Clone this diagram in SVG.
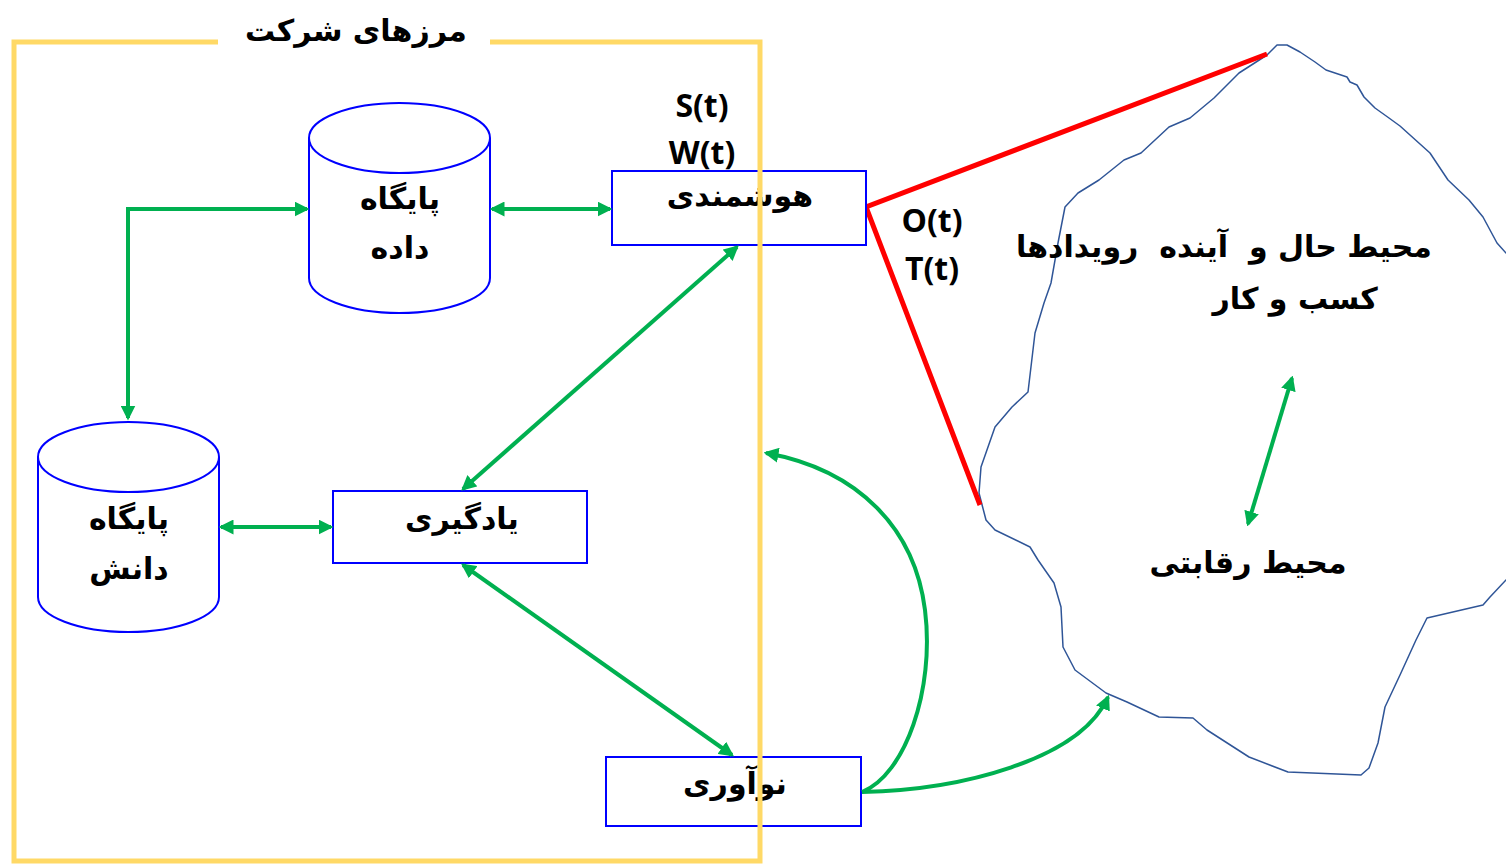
<svg xmlns="http://www.w3.org/2000/svg" width="1506" height="864" viewBox="0 0 1506 864">
<style>
.node{fill:#fff;stroke:#0000FF;stroke-width:2}
.fa{font-family:"DejaVu Sans","Noto Sans",sans-serif;font-weight:bold;font-size:30px;fill:#000;text-anchor:middle;direction:rtl;white-space:pre}
.lat{font-family:"Open Sans","Liberation Sans",sans-serif;font-weight:bold;font-size:32px;fill:#000;text-anchor:middle}
.con{fill:none;stroke:#00B050;stroke-width:4}
.red{fill:none;stroke:#FF0000;stroke-width:5}
</style>
<defs>
<marker id="ah" viewBox="0 0 12 12" refX="10" refY="6" markerWidth="15" markerHeight="15" markerUnits="userSpaceOnUse" orient="auto-start-reverse">
<path d="M0,0 L12,6 L0,12 z" fill="#00B050"/>
</marker>
</defs>
<rect width="1506" height="864" fill="#fff"/>

<g id="environment">
<path d="M1267,55 L1277,45 L1287,45 L1300,52 L1315,62 L1326,70 L1347,77 L1350,82 L1357,85 L1364,97 L1375,108 L1389,118 L1400,126 L1430,153 L1448,180 L1469,200 L1483,217 L1497,243 L1506,253 L1512,253 L1512,578 L1506,580 L1490,597 L1483,605 L1427,618 L1416,640 L1400,675 L1385,707 L1378,743 L1369,768 L1361,775 L1288,772 L1249,757 L1207,730 L1193,718 L1159,717 L1127,702 L1106,693 L1075,670 L1063,647 L1061,607 L1054,583 L1038,560 L1030,547 L995,530 L986,520 L979,493 L981,467 L995,427 L1012,407 L1028,392 L1035,333 L1044,303 L1051,283 L1058,243 L1065,207 L1078,193 L1099,180 L1124,160 L1141,153 L1155,140 L1169,127 L1190,118 L1214,98 L1239,73 Z" fill="none" stroke="#2F5597" stroke-width="1.5" stroke-linejoin="round"/>
<text class="fa" x="1224" y="257" xml:space="preserve">محیط حال و  آینده  رویدادها</text>
<text class="fa" x="1295" y="309">کسب و کار</text>
<text class="fa" x="1248" y="573">محیط رقابتی</text>
</g>

<g id="red-lines">
<polyline class="red" points="1267,54 866,207 980,505"/>
</g>

<g id="data-base">
<path class="node" d="M309,138 L309,278 A90.5,35 0 0 0 490,278 L490,138"/>
<ellipse class="node" cx="399.5" cy="138" rx="90.5" ry="35"/>
<text class="fa" x="400" y="209">پایگاه</text>
<text class="fa" x="400" y="258">داده</text>
</g>

<g id="knowledge-base">
<path class="node" d="M38,457 L38,597 A90.5,35 0 0 0 219,597 L219,457"/>
<ellipse class="node" cx="128.5" cy="457" rx="90.5" ry="35"/>
<text class="fa" x="129" y="529">پایگاه</text>
<text class="fa" x="129" y="579">دانش</text>
</g>

<g id="intelligence">
<rect class="node" x="612" y="171" width="254" height="74"/>
<text class="fa" x="740" y="206">هوشمندی</text>
</g>

<g id="learning">
<rect class="node" x="333" y="491" width="254" height="72"/>
<text class="fa" x="462" y="529">یادگیری</text>
</g>

<g id="innovation">
<rect class="node" x="606" y="757" width="255" height="69"/>
<text class="fa" x="735" y="794">نوآوری</text>
</g>

<g id="connectors">
<polyline class="con" points="128,418 128,209 307,209" marker-start="url(#ah)" marker-end="url(#ah)"/>
<line class="con" x1="492" y1="209" x2="610" y2="209" marker-start="url(#ah)" marker-end="url(#ah)"/>
<line class="con" x1="737" y1="247" x2="463" y2="489" marker-start="url(#ah)" marker-end="url(#ah)"/>
<line class="con" x1="221" y1="527" x2="331" y2="527" marker-start="url(#ah)" marker-end="url(#ah)"/>
<line class="con" x1="463" y1="565" x2="732" y2="755" marker-start="url(#ah)" marker-end="url(#ah)"/>
<path class="con" d="M862,792 C905,775 935,690 925,610 C915,530 860,470 766,453" marker-end="url(#ah)"/>
<path class="con" d="M862,792 C960,790 1080,760 1108,697" marker-end="url(#ah)"/>
<line class="con" x1="1292" y1="378" x2="1248" y2="524" marker-start="url(#ah)" marker-end="url(#ah)"/>
</g>

<g id="company-boundary">
<polyline points="218,42 14,42 14,861 760,861 760,42 490,42" fill="none" stroke="#FFD966" stroke-width="5"/>
<text class="fa" x="356" y="41">مرزهای شرکت</text>
</g>

<g id="labels">
<text class="lat" x="702" y="117">S(t)</text>
<text class="lat" x="702" y="164">W(t)</text>
<text class="lat" x="932" y="232">O(t)</text>
<text class="lat" x="932" y="280">T(t)</text>
</g>
</svg>
